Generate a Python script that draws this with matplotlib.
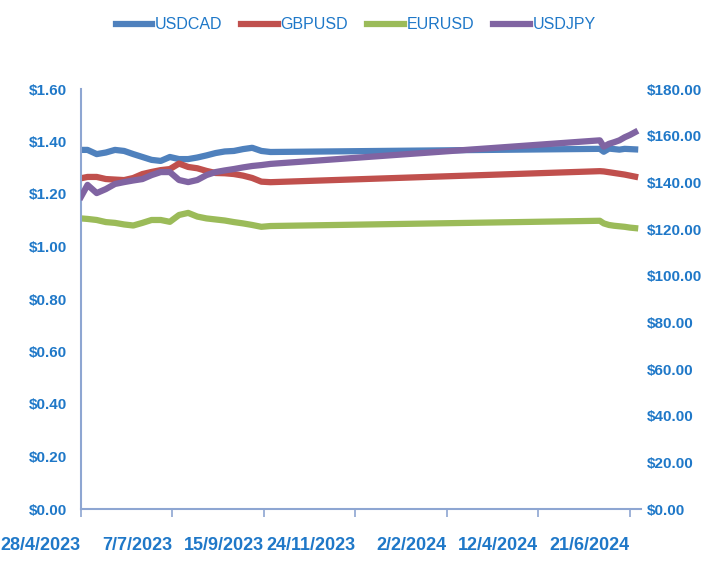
import matplotlib.pyplot as plt
from matplotlib.lines import Line2D
from matplotlib.ticker import FuncFormatter, MultipleLocator
import pandas as pd

plt.rcParams['font.family'] = ['Liberation Sans', 'DejaVu Sans']

# daily closes, sampled; the gap between Sep 2023 and late May 2024 has no data
dates = [
    '2023-04-28', '2023-05-03', '2023-05-10', '2023-05-17', '2023-05-24',
    '2023-05-31', '2023-06-07', '2023-06-14', '2023-06-21', '2023-06-28',
    '2023-07-05', '2023-07-12', '2023-07-19', '2023-07-26', '2023-08-02',
    '2023-08-09', '2023-08-16', '2023-08-23', '2023-08-30', '2023-09-06',
    '2023-09-13', '2023-09-20',
    '2024-05-29', '2024-06-01', '2024-06-05', '2024-06-09', '2024-06-13',
    '2024-06-17', '2024-06-21', '2024-06-25',
]
usdcad = [1.368, 1.368, 1.352, 1.358, 1.368, 1.364, 1.352, 1.341, 1.330, 1.326,
          1.341, 1.333, 1.333, 1.339, 1.347, 1.356, 1.362, 1.364, 1.371, 1.376,
          1.364, 1.360,
          1.372, 1.361, 1.373, 1.371, 1.369, 1.372, 1.371, 1.370]
gbpusd = [1.260, 1.265, 1.265, 1.257, 1.255, 1.253, 1.261, 1.276, 1.284, 1.291,
          1.295, 1.316, 1.303, 1.298, 1.288, 1.280, 1.279, 1.276, 1.270, 1.261,
          1.247, 1.245,
          1.287, 1.286, 1.283, 1.280, 1.277, 1.274, 1.270, 1.266]
eurusd = [1.107, 1.105, 1.101, 1.093, 1.090, 1.084, 1.080, 1.090, 1.101, 1.101,
          1.094, 1.120, 1.128, 1.114, 1.107, 1.103, 1.099, 1.093, 1.088, 1.082,
          1.075, 1.078,
          1.098, 1.088, 1.082, 1.079, 1.077, 1.075, 1.072, 1.070]
usdjpy = [133.8, 138.9, 135.4, 137.1, 139.3, 140.1, 140.8, 141.4, 143.1, 144.4,
          144.4, 141.0, 140.1, 141.0, 143.1, 144.4, 145.1, 145.7, 146.4, 147.0,
          147.4, 147.9,
          158.0, 155.3, 156.5, 157.2, 158.0, 159.3, 160.3, 161.5]

x = pd.to_datetime(dates)
start = pd.Timestamp('2023-04-28')
ticks = pd.date_range(start, periods=7, freq='70D')
tick_labels = [f'{d.day}/{d.month}/{d.year}' for d in ticks]

c_cad = '#4F81BD'
c_gbp = '#C0504D'
c_eur = '#9BBB59'
c_jpy = '#8064A2'
txt = '#1F78C8'
axis_c = '#8EA6D2'
lw = 4.5

fig = plt.figure(figsize=(7.04, 5.67), dpi=100)
ax = fig.add_axes([81 / 704, 1 - 509 / 567, 560 / 704, 420 / 567])
ax2 = ax.twinx()

ax.plot(x, usdcad, color=c_cad, lw=lw, solid_joinstyle='round')
ax.plot(x, gbpusd, color=c_gbp, lw=lw, solid_joinstyle='round')
ax.plot(x, eurusd, color=c_eur, lw=lw, solid_joinstyle='round')
ax2.plot(x, usdjpy, color=c_jpy, lw=lw, solid_joinstyle='round')

ax.set_xlim(start, pd.Timestamp('2024-06-29 12:00'))
ax.set_ylim(0, 1.6)
ax2.set_ylim(0, 180)
ax.yaxis.set_major_locator(MultipleLocator(0.2))
ax2.yaxis.set_major_locator(MultipleLocator(20))
money = FuncFormatter(lambda v, p: f'${v:.2f}')
ax.yaxis.set_major_formatter(money)
ax2.yaxis.set_major_formatter(money)

ax.set_xticks(ticks)
ax.set_xticklabels(tick_labels, ha='right', fontsize=13, fontweight='bold', color=txt)

for a in (ax, ax2):
    for s in a.spines.values():
        s.set_visible(False)
for side in ('left', 'bottom'):
    ax.spines[side].set_visible(True)
    ax.spines[side].set_color(axis_c)
    ax.spines[side].set_linewidth(1.5)

ax.tick_params(axis='x', length=6, width=1.2, color=axis_c, pad=14)
ax.tick_params(axis='y', length=0, pad=10, labelsize=11, labelcolor=txt)
ax2.tick_params(axis='y', length=0, pad=4, labelsize=11, labelcolor=txt)
for lab in ax.get_yticklabels() + ax2.get_yticklabels():
    lab.set_fontweight('bold')

handles = [Line2D([], [], color=c, lw=lw) for c in (c_cad, c_gbp, c_eur, c_jpy)]
leg = fig.legend(handles, ['USDCAD', 'GBPUSD', 'EURUSD', 'USDJPY'], loc='upper center',
                 bbox_to_anchor=(0.505, 0.995), ncol=4, frameon=False, fontsize=11.5,
                 handlelength=2.3, handletextpad=0.15, columnspacing=1.2)
for t in leg.get_texts():
    t.set_color(txt)

fig.savefig('out.png', dpi=100)
